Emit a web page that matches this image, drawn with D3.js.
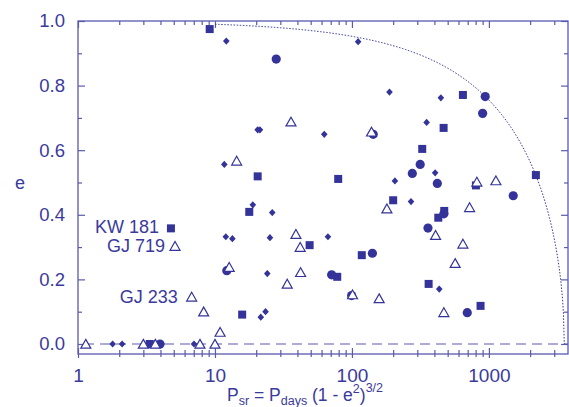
<!DOCTYPE html>
<html>
<head>
<meta charset="utf-8">
<script src="https://cdn.jsdelivr.net/npm/d3@7"></script>
<style>
  body { margin: 0; background: #fff; }
  text { font-family: "Liberation Sans", Arial, sans-serif; fill: #3a3a9c; }
</style>
</head>
<body>
<div id="chart"></div>
<script>
// data: P_sr (days) and eccentricity
var circleP = [3.97, 12.2, 28.0, 71.1, 99.5, 141, 143, 276, 315, 359, 420, 469, 695, 900, 940, 1505]
var circleE = [0, 0.227, 0.882, 0.214, 0.150, 0.281, 0.649, 0.528, 0.556, 0.359, 0.497, 0.403, 0.097, 0.714, 0.766, 0.459]

var squareP = [3.34, 4.77, 9.15, 15.8, 17.8, 20.5, 49.1, 78.1, 79.4, 118, 200, 326, 363, 427, 472, 467, 646, 804, 869, 2203]
var squareE = [0, 0.358, 0.975, 0.091, 0.409, 0.519, 0.306, 0.208, 0.511, 0.275, 0.445, 0.604, 0.186, 0.391, 0.412, 0.669, 0.771, 0.491, 0.118, 0.523]

var diamondP = [1.79, 2.10, 7.03, 11.7, 12.0, 12.1, 13.4, 18.9, 20.5, 21.3, 21.6, 23.4, 24.1, 25.2, 26.2, 62.8, 66.8, 111, 188, 206, 270, 351, 405, 434, 446]
var diamondE = [0, 0, 0, 0.556, 0.332, 0.938, 0.326, 0.431, 0.663, 0.663, 0.083, 0.100, 0.218, 0.329, 0.407, 0.649, 0.332, 0.936, 0.78, 0.505, 0.441, 0.686, 0.530, 0.170, 0.762]

var triangleP = [1.14, 3.0, 3.67, 5.11, 6.76, 7.77, 8.27, 10.0, 10.9, 12.7, 14.4, 33.7, 35.9, 39.0, 41.9, 42.2, 101, 139, 158, 180, 408, 469, 567, 646, 723, 817, 1125]
var triangleE = [0, 0, 0, 0.303, 0.146, 0, 0.100, 0, 0.037, 0.238, 0.567, 0.186, 0.688, 0.340, 0.300, 0.222, 0.153, 0.657, 0.141, 0.419, 0.337, 0.098, 0.250, 0.310, 0.423, 0.502, 0.506]

// star labels: text, P, e
var starNames = ["KW 181", "GJ 719", "GJ 233"]
var starP = [4.77, 5.11, 6.76]
var starE = [0.358, 0.303, 0.146]

// axis ticks
var xMajor = [1, 10, 100, 1000]
var xMinor = [2, 3, 4, 5, 6, 7, 8, 9, 20, 30, 40, 50, 60, 70, 80, 90, 200, 300, 400, 500, 600, 700, 800, 900, 2000, 3000]
var yMajor = [0, 0.2, 0.4, 0.6, 0.8, 1.0]
var yMinor = [0.1, 0.3, 0.5, 0.7, 0.9]

// envelope limit P_max and where it starts
var pMax = 3550
var curveStart = 10

var viewWidth = 569, viewHeight = 407
var plotLeft = 78, plotRight = 568, plotTop = 21, plotBottom = 354
var ink = "#333399", axisInk = "#5a5aae"

var xScale = d3.scaleLog().domain([1, 3780]).range([plotLeft, plotRight])
var yScale = d3.scaleLinear().domain([-0.031, 1]).range([plotBottom, plotTop])

var svg = d3.select("#chart").append("svg")
  .attr("width", viewWidth).attr("height", viewHeight)

// frame
svg.append("rect")
  .attr("x", plotLeft).attr("y", plotTop)
  .attr("width", plotRight - plotLeft).attr("height", plotBottom - plotTop)
  .attr("fill", "none").attr("stroke", axisInk).attr("stroke-width", 1.3)

function axisStyle(g) {
  g.select(".domain").remove()
  g.selectAll("line").attr("stroke", axisInk).attr("stroke-width", 1.2)
  g.selectAll("text").attr("fill", "#3a3a9c")
    .style("font-family", "'Liberation Sans', Arial, sans-serif")
}

// left axis with labels, ticks inward
svg.append("g").attr("transform", "translate(" + plotLeft + ",0)")
  .call(d3.axisLeft(yScale).tickValues(yMajor).tickSizeInner(-7).tickSizeOuter(0)
    .tickPadding(13).tickFormat(d3.format(".1f")))
  .call(axisStyle)
  .selectAll("text").style("font-size", "18.5px")
svg.append("g").attr("transform", "translate(" + plotLeft + ",0)")
  .call(d3.axisLeft(yScale).tickValues(yMinor).tickSizeInner(-4).tickSizeOuter(0).tickFormat(""))
  .call(axisStyle)

// right axis, ticks inward
svg.append("g").attr("transform", "translate(" + plotRight + ",0)")
  .call(d3.axisRight(yScale).tickValues(yMajor).tickSizeInner(-7).tickSizeOuter(0).tickFormat(""))
  .call(axisStyle)
svg.append("g").attr("transform", "translate(" + plotRight + ",0)")
  .call(d3.axisRight(yScale).tickValues(yMinor).tickSizeInner(-4).tickSizeOuter(0).tickFormat(""))
  .call(axisStyle)

// top axis, ticks inward
svg.append("g").attr("transform", "translate(0," + plotTop + ")")
  .call(d3.axisTop(xScale).tickValues(xMajor).tickSizeInner(-7).tickSizeOuter(0).tickFormat(""))
  .call(axisStyle)
svg.append("g").attr("transform", "translate(0," + plotTop + ")")
  .call(d3.axisTop(xScale).tickValues(xMinor).tickSizeInner(-4).tickSizeOuter(0).tickFormat(""))
  .call(axisStyle)

// bottom axis, ticks cross the line
var bx = svg.append("g").attr("transform", "translate(0," + plotBottom + ")")
  .call(d3.axisBottom(xScale).tickValues(xMajor).tickSizeInner(4).tickSizeOuter(0)
    .tickPadding(6).tickFormat(d3.format("d")))
  .call(axisStyle)
bx.selectAll("line").attr("y1", -6)
bx.selectAll("text").style("font-size", "19px").attr("dy", "0.95em")
var bm = svg.append("g").attr("transform", "translate(0," + plotBottom + ")")
  .call(d3.axisBottom(xScale).tickValues(xMinor).tickSizeInner(3).tickSizeOuter(0).tickFormat(""))
  .call(axisStyle)
bm.selectAll("line").attr("y1", -4)

// dashed e = 0 line
svg.append("line")
  .attr("x1", plotLeft + 2).attr("x2", plotRight)
  .attr("y1", yScale(0)).attr("y2", yScale(0))
  .attr("stroke", "#5a5aae").attr("stroke-width", 1.2)
  .attr("stroke-dasharray", "10,6").attr("stroke-dashoffset", -4)

// dotted envelope e = sqrt(1 - (P/Pmax)^(2/3))
var curveP = d3.range(0, 401).map(function(i) {
  return Math.exp(Math.log(curveStart) + (Math.log(pMax) - Math.log(curveStart)) * i / 400)
})
var envelope = d3.line()
  .x(function(p) { return xScale(p) })
  .y(function(p) { return yScale(Math.sqrt(Math.max(0, 1 - Math.pow(p / pMax, 2 / 3)))) })
svg.append("path").datum(curveP)
  .attr("d", envelope)
  .attr("fill", "none").attr("stroke", ink).attr("stroke-width", 1)
  .attr("stroke-dasharray", "1.5,1.6")

function pairs(ps, es) { return ps.map(function(p, i) { return {p: p, e: es[i]} }) }

// markers
svg.append("g").selectAll("path").data(pairs(diamondP, diamondE)).join("path")
  .attr("transform", function(d) { return "translate(" + xScale(d.p) + "," + yScale(d.e) + ")" })
  .attr("d", "M0,-3.6L3.3,0L0,3.6L-3.3,0Z")
  .attr("fill", ink)

svg.append("g").selectAll("rect").data(pairs(squareP, squareE)).join("rect")
  .attr("x", function(d) { return xScale(d.p) - 4 })
  .attr("y", function(d) { return yScale(d.e) - 4 })
  .attr("width", 8).attr("height", 8)
  .attr("fill", ink)

svg.append("g").selectAll("circle").data(pairs(circleP, circleE)).join("circle")
  .attr("cx", function(d) { return xScale(d.p) })
  .attr("cy", function(d) { return yScale(d.e) })
  .attr("r", 4.6)
  .attr("fill", ink)

svg.append("g").selectAll("path").data(pairs(triangleP, triangleE)).join("path")
  .attr("transform", function(d) { return "translate(" + xScale(d.p) + "," + yScale(d.e) + ")" })
  .attr("d", "M0,-4.6L5,4.2L-5,4.2Z")
  .attr("fill", "#fff").attr("stroke", ink).attr("stroke-width", 1.2)

// star name labels
var labelGap = [12, 10, 14]
var labelShift = [-2, 0, 0]
svg.append("g").selectAll("text").data(starNames).join("text")
  .attr("x", function(d, i) { return xScale(starP[i]) - labelGap[i] })
  .attr("y", function(d, i) { return yScale(starE[i]) + labelShift[i] })
  .attr("dy", "0.35em")
  .attr("text-anchor", "end")
  .style("font-size", "18px")
  .text(function(d) { return d })

// axis titles
svg.append("text")
  .attr("x", 20).attr("y", 183).attr("dy", "0.35em")
  .attr("text-anchor", "middle")
  .style("font-size", "18px")
  .text("e")

var xt = svg.append("text").attr("x", 227).attr("y", 401).style("font-size", "17.5px")
xt.append("tspan").text("P")
xt.append("tspan").attr("dy", 3.5).style("font-size", "12.5px").text("sr")
xt.append("tspan").attr("dy", -3.5).text(" = P")
xt.append("tspan").attr("dy", 3.5).style("font-size", "12.5px").text("days")
xt.append("tspan").attr("dy", -3.5).text(" (1 - e")
xt.append("tspan").attr("dy", -8).style("font-size", "12.5px").text("2")
xt.append("tspan").attr("dy", 8).text(")")
xt.append("tspan").attr("dy", -9).style("font-size", "12.5px").text("3/2")
</script>
</body>
</html>
